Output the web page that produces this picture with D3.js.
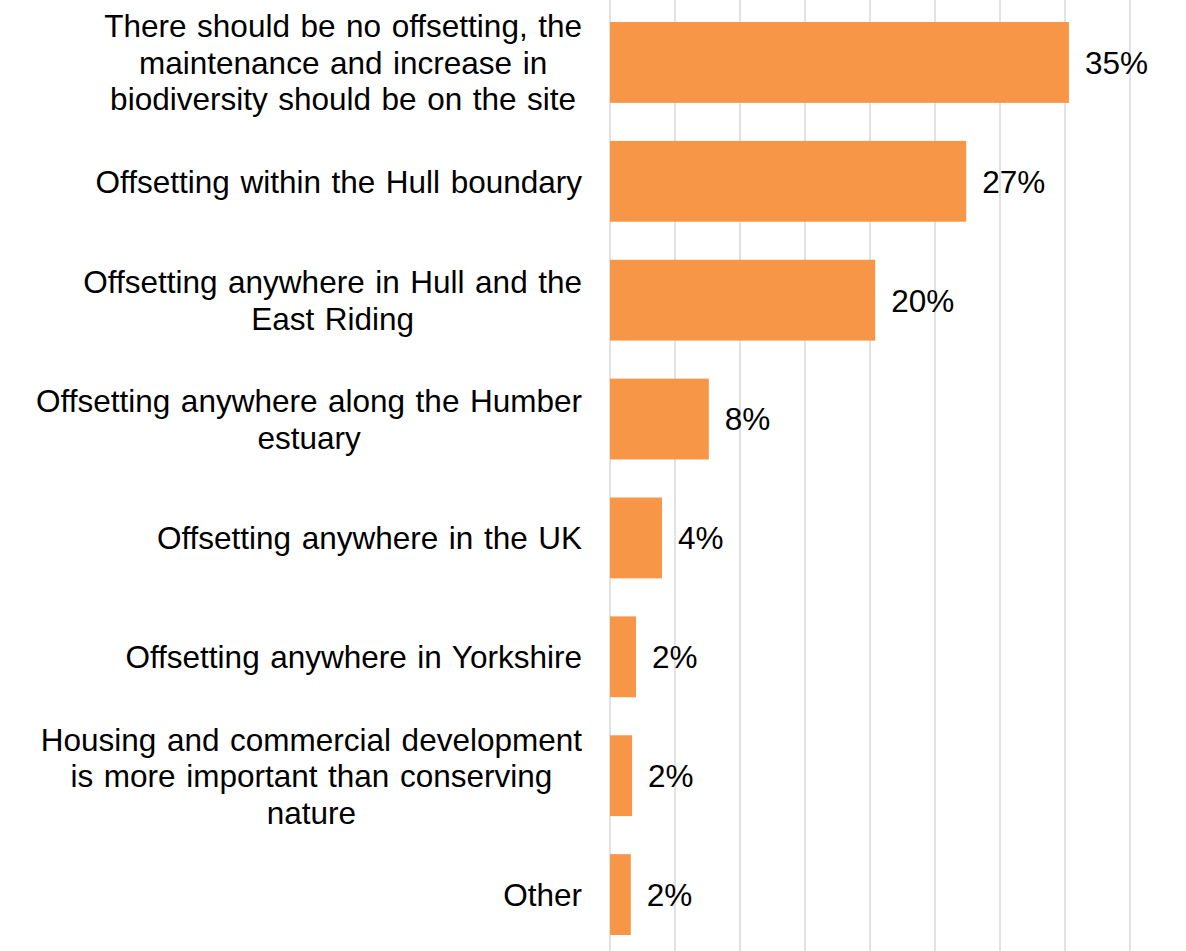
<!DOCTYPE html>
<html>
<head>
<meta charset="utf-8">
<script src="https://cdn.jsdelivr.net/npm/d3@7"></script>
<style>
  html, body { margin: 0; padding: 0; background: #ffffff; }
  svg { display: block; }
  text { font-family: "Liberation Sans", Arial, sans-serif; fill: #000; }
</style>
</head>
<body>
<svg id="chart" width="1186" height="951"></svg>
<script>
// Survey responses: preferred approach to biodiversity offsetting
const categories = [
  "There should be no offsetting, the\nmaintenance and increase in\nbiodiversity should be on the site",
  "Offsetting within the Hull boundary",
  "Offsetting anywhere in Hull and the\nEast Riding",
  "Offsetting anywhere along the Humber\nestuary",
  "Offsetting anywhere in the UK",
  "Offsetting anywhere in Yorkshire",
  "Housing and commercial development\nis more important than conserving\nnature",
  "Other"
];
// Share of respondents (%)
const values = [35.3, 27.4, 20.4, 7.6, 4.0, 2.0, 1.7, 1.6];
// Gridline positions (%)
const gridTicks = [0, 5, 10, 15, 20, 25, 30, 35, 40];

const W = 1186, H = 951;
const plot = { left: 610, right: 1130, top: 3, bottom: 954 };
const catFont = 31.5, valFont = 31.5, lineHeight = 36.5;
const barColor = "#F79646";

const svg = d3.select("#chart");

const x = d3.scaleLinear().domain([0, 40]).range([plot.left, plot.right]);
const y = d3.scaleBand()
  .domain(categories)
  .range([plot.top, plot.bottom])
  .paddingInner(0.32)
  .paddingOuter(0.16);

// Vertical gridlines
svg.append("g")
  .selectAll("line")
  .data(gridTicks)
  .join("line")
  .attr("x1", d => x(d)).attr("x2", d => x(d))
  .attr("y1", 0).attr("y2", H)
  .attr("stroke", "#d9d9d9")
  .attr("stroke-width", 1.5);

// Bars
svg.append("g")
  .selectAll("rect")
  .data(values)
  .join("rect")
  .attr("x", x(0))
  .attr("y", (d, i) => y(categories[i]))
  .attr("width", d => x(d) - x(0))
  .attr("height", y.bandwidth())
  .attr("fill", barColor);

// Value labels
svg.append("g")
  .selectAll("text")
  .data(values)
  .join("text")
  .attr("x", d => x(d) + 16)
  .attr("y", (d, i) => y(categories[i]) + y.bandwidth() / 2)
  .attr("dy", "0.36em")
  .attr("font-size", valFont)
  .text(d => d3.format(".0f")(d) + "%");

// Category labels: multi-line blocks, lines centred, block right-aligned to the axis
const labelRight = 582;
const labels = svg.append("g");
categories.forEach(cat => {
  const lines = cat.split("\n");
  const t = labels.append("text")
    .attr("font-size", catFont)
    .attr("word-spacing", 1.8)
    .attr("text-anchor", "middle");
  const cy = y(cat) + y.bandwidth() / 2;
  const firstY = cy - (lines.length - 1) * lineHeight / 2;
  const spans = lines.map((ln, i) =>
    t.append("tspan").attr("y", firstY + i * lineHeight).attr("dy", "0.36em").text(ln)
  );
  const maxW = d3.max(spans, s => s.node().getComputedTextLength());
  const cx = labelRight - maxW / 2;
  spans.forEach(s => s.attr("x", cx));
});
</script>
</body>
</html>
